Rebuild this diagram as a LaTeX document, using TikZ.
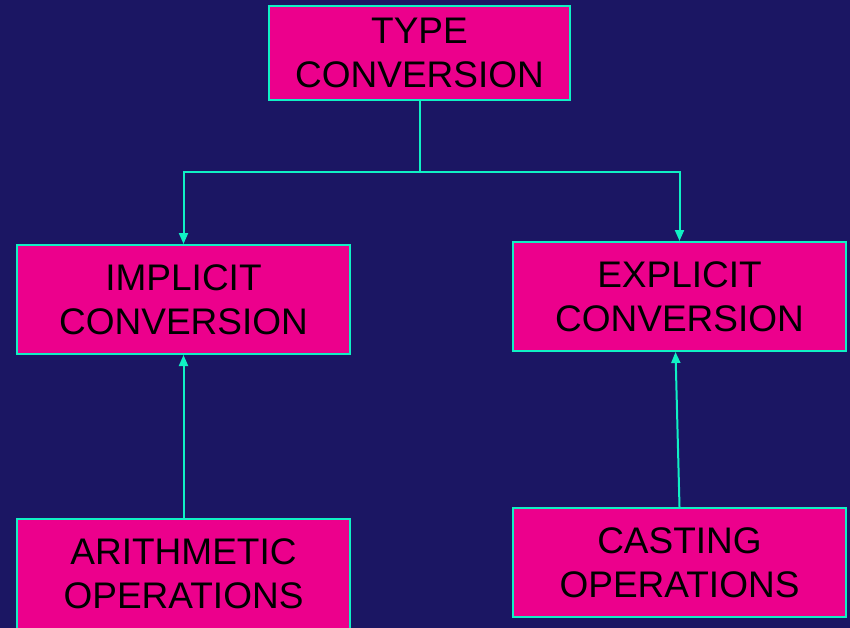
\documentclass[tikz,border=0pt]{standalone}
\usepackage{fontspec}
\setmainfont{Liberation Sans}
\usetikzlibrary{arrows.meta}
\definecolor{slidebg}{HTML}{1B1663}
\definecolor{boxpink}{HTML}{EC008C}
\definecolor{lineaqua}{HTML}{10F0C4}

\begin{document}
\begin{tikzpicture}[x=1pt, y=-1pt,
    box/.style={draw=lineaqua, line width=2pt, fill=boxpink, align=center,
        inner sep=0pt, minimum width=333pt, minimum height=109pt,
        font=\fontsize{37}{44}\selectfont},
    link/.style={lineaqua, line width=2pt},
    arr/.style={link, -{Triangle[length=11pt, width=9pt]}}]

    \fill[slidebg] (0,0) rectangle (850,628);
    \useasboundingbox (0,0) rectangle (850,628);
    \clip (0,0) rectangle (850,628);

    \node[box, minimum width=301pt, minimum height=94pt] (type) at (419.5, 53) {TYPE\\CONVERSION};
    \node[box] (implicit) at (183.5, 299.5) {IMPLICIT\\CONVERSION};
    \node[box] (explicit) at (679.5, 296.5) {EXPLICIT\\CONVERSION};
    \node[box, minimum height=110pt] (arith) at (183.5, 574) {ARITHMETIC\\OPERATIONS};
    \node[box] (casting) at (679.5, 562.5) {CASTING\\OPERATIONS};

    \coordinate (split) at (419.5, 172);

    \draw[link] (type) -- (split);
    \draw[arr] (split) -| (implicit);
    \draw[arr] (split) -| (explicit);
    \draw[arr] (arith) -- (implicit);
    \draw[arr] (casting.north) -- ([xshift=-4pt]explicit.south);

\end{tikzpicture}
\end{document}
